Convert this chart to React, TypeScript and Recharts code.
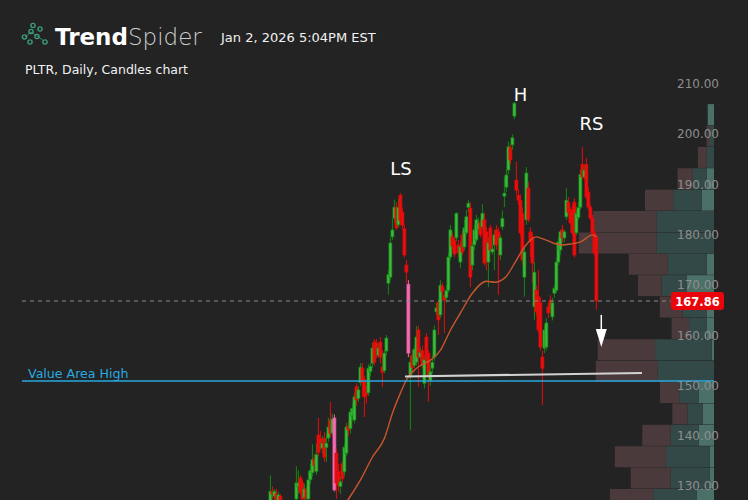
import React from 'react';
import { ComposedChart, BarChart, Bar, Line, XAxis, YAxis, ReferenceLine, ReferenceDot } from 'recharts';

// ---------- data ----------
// daily candles [open, high, low, close], oldest first
const ohlc: [number, number, number, number][] = [
  [127.5,133.2,126.5,130.0],[130,131,128.5,129.5],[129,130.5,128,130],[129.5,130.5,127,128.2],[128.2,130,127.8,129.3],
  [129,129.5,125,125.5],[125.5,126.5,122.5,123],[123,125.5,122,124.5],[124.5,125.5,121.5,122.5],[122.5,125.8,122,124.8],
  [124.8,127.5,124,126.8],[126.8,128,125.5,127.8],[126.5,128.2,125.8,128],[128.5,135,127,131.7],[130.9,134.2,129.5,131.7],
  [132.7,133.2,129.5,129.8],[131.7,132.3,127.5,128.5],[128.8,131.5,128,130.5],[130.5,131,128,128.6],[128.5,133.9,128,132.3],
  [132.3,135.5,131.5,134.2],[133.7,139.4,133,136.3],[136.5,137.5,134,135.2],[134,139.6,133.3,137.3],[141.2,144.6,137,137.8],
  [140.5,142,138.3,139],[138.6,141,137.5,139.6],[140.6,141.8,135.9,136.8],[138.7,141.6,135.9,139.6],[140.6,144.6,139.9,142.8],
  [144.2,147.8,140.8,141.6],[141.6,145.5,141,144.4],[144.6,145.3,130,130.3],[137.6,138.6,128.5,131.7],[134,135.5,130,131.2],
  [131,133,129.5,131.9],[135.5,136,131.8,132.5],[133.9,139.5,133,138.8],[137.6,143.6,137,142.8],[143,144,141,142.2],
  [142.5,146.5,141.5,145.8],[145,147.5,144,146.5],[144.2,149.6,143.5,148.8],[150.8,151.5,147,148.2],[148.5,151,147.8,150.2],
  [151.6,155.5,151,154.7],[154.5,155.5,148.8,151.6],[152.2,153,144.8,148.8],[150,151,147.5,149.2],[149.6,155.3,149,154.5],
  [153.8,155.5,153,154.9],[155.5,159.5,154.5,158.5],[159.7,160.3,155,155.7],[159.5,160.3,156.5,157.5],[157,159.5,156.5,158.5],
  [159.7,160.7,155.5,156.7],[154.7,158.1,150.8,153.7],[154,158,153.5,157.5],[157.9,161.1,157,160.5],[171.4,174,169.1,173.1],
  [172.6,180.5,172,179.4],[180.6,184.2,180,182],[184.3,188,183.5,186.5],[186.5,187.5,182,182.4],[183,188.2,182.5,186.5],
  [188.9,189.3,183,183.9],[185.5,186.5,182,182.9],[182.2,183,176.5,177],[175,176,171.4,173.6],[171.2,172,156.7,157.5],
  [152.8,157,142.2,155.7],[157.1,158,154,154.7],[155.1,159,154.5,158.3],[155.7,162.9,155,160.7],[162.1,163,150.8,156.7],
  [156.7,158.5,156,157.6],[158,159,154.5,155],[151.5,157,150.5,156.2],[160.7,161.5,155.5,156.1],[157.5,158,147.8,152.8],
  [152,154.5,151,153.8],[154.5,157,153.5,155.7],[156.7,163,156,162.1],[165.7,167.5,165,166.5],[167.5,168,161.1,164.1],
  [165.1,172,164.5,171],[170.8,171.5,169,169.8],[169,169.5,161.5,168],[168.5,171,167.5,170],[170,177.5,169.5,176.6],
  [176.6,183,176,182],[180.6,181.5,178,178.8],[180,180.5,176.5,177.2],[180.4,185.5,179.8,185.3],[179,180,176.5,177.4],
  [175.6,179.5,174.4,178.6],[181,181.8,177,177.6],[178.6,184,178,182.4],[181.4,186,181,184.6],[186.5,187.9,185.5,187.3],
  [186.3,187.5,170.6,172.6],[175,179.5,174,178.8],[179,183,178,182],[180,185,179.5,184],[182,184.5,181.5,183.4],
  [183.4,184,180.5,181],[182.6,187.1,182,185.3],[184,185.4,175,175.4],[181.6,182.5,174,175.6],[175.6,180.5,170.6,179.4],
  [182.4,183,177.5,178],[177.6,179,177,178.2],[179,182,174,181],[182,183,178,179],[181.6,182.5,169.1,180],
  [177,181,176,180.4],[182.6,185.9,182,184.3],[188.7,192.5,186.5,189.3],[190.5,194,189.5,192.9],[193.9,199.5,193,198.5],
  [198.3,199,195,195.9],[198.9,201,198,200.3],[204.6,207.4,204,207.2],[191.9,195.5,189,189.9],[188.9,190,187,187.9],
  [187.9,189,180.8,181.4],[185.3,186.5,175,176],[172.6,178.5,168.7,177.6],[184,194.5,183,193.3],[190.3,191.5,183.5,184],
  [181.6,182.5,176.6,179.6],[180.6,181.5,171.4,175.4],[166.7,175.6,164.1,173.6],[170,171,165,165.7],[168.7,174,161.5,162.1],
  [167.5,168.5,158,158.7],[156.7,158,147.2,154.5],[158.5,163,157.5,162.1],[158.7,164.5,158,163.5],[166.7,167.5,164.5,165.5],
  [168,169,165.5,166.1],[164.7,168.5,164,167.5],[169.4,171,168.5,170.4],[170,176.5,169.5,175.6],[175.6,180.5,175,179.6],
  [178,182,177,181.6],[182,183,179.5,180.4],[180.4,182,179.5,181.6],[184.6,190.3,184,187.9],[187.5,188.5,185,185.5],
  [185.5,186.5,183,183.4],[186,187,181,181.4],[187.5,188.3,176.5,177],[181.4,186,181,185.3],[184.5,187.5,184,186.5],
  [186.5,194,186,193],[195,198.5,192,192.5],[192.5,195,192,193.9],[195,196.3,188,188.5],[189.5,190.5,186,186.5],
  [186.5,187,184,184.3],[184.3,185,181,181.4],[181.4,182,177,177.4],[180.6,181,166.1,167.86],
];

// highlighted (pink) sessions, by candle index
const highlightDays = [32, 69];

// moving average read at some sessions [candle index, value]
const maPoints: [number, number][] = [
  [30,124],[39,128.5],[45,132.3],[51,136.85],[57,140.6],[61,145.6],[65,149.6],[68,152.2],[73,154.5],[80,156.1],
  [85,158.1],[90,162.1],[95,165.5],[101,169.45],[108,171.8],[112,171.6],[117,172.4],[123,176],[127,178.6],[133,180.6],
  [137,180.1],[142,179.3],[146,179.0],[150,179.2],[155,179.6],[161,181.0],[163,180.6],
];

// volume profile buckets (price centre) and volumes
const profilePrices = [128.375,132.625,136.875,141.125,145.375,149.625,153.875,158.125,162.375,166.625,170.875,175.125,179.375,183.625,187.875,192.125,196.375,200.625,204.875];
const profileSell = [28.8,26.6,33.9,18.9,10,12.8,41.2,38.1,11.7,15.1,15.8,25.9,51.7,42.4,18.8,10,5.8,2.2,0];
const profileBuy = [28.9,26.1,29.3,18.8,10.2,13.1,37.4,37.7,11.6,16,16.6,25.9,38.1,38.1,18.9,9.3,4.9,2.7,0];
const profileOverlap = [11.5,2.7,2.7,10,7.5,10,0,1.5,4.9,4.9,18.2,4.9,0,0,8.2,4.9,0,0,4.2];

const priceTicks = [130, 140, 150, 160, 170, 180, 190, 200, 210];
const lastPrice = 167.86;
const valueAreaHigh = 151.96;
const neckline = [{ x: 67.25, y: 152.85 }, { x: 185.75, y: 153.55 }];
const patternLabels = [
  { text: 'LS', x: 65.25, y: 194.3 },
  { text: 'H', x: 125, y: 209.0 },
  { text: 'RS', x: 160.5, y: 203.05 },
];
const arrowX = 165.4;
const arrowFrom = 165.1;
const arrowTip = 158.7;

// ---------- layout ----------
const W = 748;
const H = 500;
const MARGIN = { top: 0, right: 34, bottom: 0, left: 22 };
const PRICE_DOMAIN: [number, number] = [128.3, 227.7];
const INDEX_DOMAIN: [number, number] = [-124.25, 221.75];
const FONT = '"DejaVu Sans", sans-serif';
const BG = '#232323';

const maMap = new Map(maPoints.map(([i, v]) => [i, v]));
const highlightSet = new Set(highlightDays);
const rows = ohlc.map(([o, h, l, c], i) => ({ i, o, h, l, c, ma: maMap.has(i) ? maMap.get(i) : null }));
const profileRows = profilePrices.map((price, k) => ({
  price, sell: profileSell[k], buy: profileBuy[k], overlap: profileOverlap[k],
}));

const CandleShape = (props: any) => {
  const { x, y, width, height, payload } = props;
  if (!payload || payload.h == null) return null;
  const top = Math.min(y, y + height);
  const bot = Math.max(y, y + height);
  const span = payload.h - payload.l;
  const toY = (p: number) => (span === 0 ? top : top + ((payload.h - p) / span) * (bot - top));
  const cx = x + width / 2;
  const up = payload.c >= payload.o;
  const pink = highlightSet.has(payload.i);
  const bTop = toY(Math.max(payload.o, payload.c));
  const bBot = toY(Math.min(payload.o, payload.c));
  const bh = Math.max(1.2, bBot - bTop);
  const bw = 3;
  const wick = pink ? '#f068ae' : up ? '#0f8a0f' : '#e50c0c';
  const fill = pink ? '#f56cb2' : up ? '#3cbc3c' : '#e8100f';
  const stroke = pink ? '#e05aa0' : up ? '#178417' : '#e00808';
  return (
    <g>
      <line x1={cx} x2={cx} y1={top} y2={bot} stroke={wick} strokeWidth={1} />
      <rect x={cx - bw / 2} y={bTop} width={bw} height={bh} fill={fill} stroke={stroke} strokeWidth={0.7} />
    </g>
  );
};

const PriceTick = (props: any) => {
  const { y, payload } = props;
  return (
    <text x={719} y={y - 5} textAnchor="end" dominantBaseline="central" fill="#8e8e8e" fontSize={12} fontFamily={FONT}>
      {Number(payload.value).toFixed(2)}
    </text>
  );
};

const PriceTag = (props: any) => {
  const vb = props.viewBox || {};
  const right = (vb.x || 0) + (vb.width || 0);
  const y = vb.y || 0;
  return (
    <g>
      <rect x={right - 43} y={y - 9} width={53} height={18} rx={3} ry={3} fill="#e8060c" />
      <text x={right - 16.5} y={y + 0.5} textAnchor="middle" dominantBaseline="central" fill="#ffffff" fontSize={11.5} fontWeight={700} fontFamily={FONT}>
        {lastPrice.toFixed(2)}
      </text>
    </g>
  );
};

const VahLabel = (props: any) => {
  const vb = props.viewBox || {};
  return (
    <text x={(vb.x || 0) + 6} y={(vb.y || 0) - 7} dominantBaseline="central" fill="#2aa8e0" fontSize={12.6} fontFamily={FONT}>
      Value Area High
    </text>
  );
};

const PatternText = (text: string) => (p: any) => (
  <text x={p.cx} y={p.cy} textAnchor="middle" dominantBaseline="central" fill="#ffffff" fontSize={18} fontFamily={FONT}>
    {text}
  </text>
);

const ArrowHead = (p: any) => (
  <polygon points={`${p.cx},${p.cy} ${p.cx - 5.5},${p.cy - 18} ${p.cx + 5.5},${p.cy - 18}`} fill="#ffffff" />
);

const ProfileChart = () => (
  <BarChart width={W} height={H} data={profileRows} layout="vertical" margin={MARGIN} barCategoryGap={0}>
    <XAxis type="number" domain={[0, 460]} reversed hide allowDataOverflow />
    <YAxis type="number" dataKey="price" domain={PRICE_DOMAIN} allowDataOverflow reversed hide />
    <Bar dataKey="overlap" stackId="p" fill="#4b7068" barSize={21} isAnimationActive={false} />
    <Bar dataKey="buy" stackId="p" fill="#334947" barSize={21} isAnimationActive={false} />
    <Bar dataKey="sell" stackId="p" fill="#4a3a3b" barSize={21} isAnimationActive={false} />
  </BarChart>
);

const MainChart = () => (
  <ComposedChart width={W} height={H} data={rows} margin={MARGIN}>
    <XAxis type="number" dataKey="i" domain={INDEX_DOMAIN} allowDataOverflow hide />
    <YAxis
      type="number"
      domain={PRICE_DOMAIN}
      allowDataOverflow
      orientation="right"
      mirror
      axisLine={false}
      tickLine={false}
      ticks={priceTicks}
      interval={0}
      tick={<PriceTick />}
    />
    <ReferenceLine y={lastPrice} stroke="#8c8c8c" strokeDasharray="4 4" strokeWidth={1} />
    <Bar
      dataKey={(d: any) => [d.l, d.h]}
      barSize={3}
      shape={<CandleShape />}
      isAnimationActive={false}
    />
    <Line dataKey="ma" type="monotone" stroke="#c9552b" strokeWidth={1.4} dot={false} connectNulls isAnimationActive={false} />
    <ReferenceLine segment={neckline} stroke="#d2d2d2" strokeWidth={2.2} ifOverflow="visible" />
    <ReferenceLine y={valueAreaHigh} stroke="#2aa8e0" strokeWidth={1.3} label={<VahLabel />} />
    <ReferenceLine y={lastPrice} stroke="none" label={<PriceTag />} />
    <ReferenceLine segment={[{ x: arrowX, y: arrowFrom }, { x: arrowX, y: arrowTip + 2 }]} stroke="#ffffff" strokeWidth={1.5} />
    <ReferenceDot x={arrowX} y={arrowTip} r={0} shape={ArrowHead} />
    {patternLabels.map((lb) => (
      <ReferenceDot key={lb.text} x={lb.x} y={lb.y} r={0} shape={PatternText(lb.text)} />
    ))}
  </ComposedChart>
);

const Header = () => (
  <svg width={W} height={90} style={{ position: 'absolute', left: 0, top: 0 }}>
    <g stroke="#3a9c7b" strokeWidth={1.4} fill="none">
      <line x1={25} y1={37} x2={31} y2={32} strokeWidth={0.8} />
      <line x1={31} y1={32} x2={37} y2={36} strokeWidth={0.8} />
      <line x1={37} y1={36} x2={44} y2={41} strokeWidth={0.8} />
      <circle cx={24.5} cy={37} r={2.1} />
      <circle cx={31} cy={31.5} r={2.1} />
      <circle cx={33} cy={25.5} r={2.1} />
      <circle cx={40} cy={29} r={2.1} />
      <circle cx={37} cy={36.5} r={2.1} />
      <circle cx={30} cy={42} r={2.1} />
      <circle cx={45} cy={42} r={2.1} />
    </g>
    <text x={55} y={45} fontFamily={FONT} fontSize={23}>
      <tspan fill="#ffffff" fontWeight={700}>Trend</tspan>
      <tspan fill="#cfcfcf" fontWeight={200}>Spider</tspan>
    </text>
    <text x={221} y={42} fontFamily={FONT} fontSize={13} fill="#f2f2f2">Jan 2, 2026 5:04PM EST</text>
    <text x={25} y={74} fontFamily={FONT} fontSize={12.5} fill="#f2f2f2">PLTR, Daily, Candles chart</text>
  </svg>
);

export default function App() {
  return (
    <div style={{ position: 'fixed', left: 0, top: 0, width: W, height: H, background: BG, overflow: 'hidden' }}>
      <div style={{ position: 'absolute', left: 0, top: 0 }}>
        <ProfileChart />
      </div>
      <div style={{ position: 'absolute', left: 0, top: 0 }}>
        <MainChart />
      </div>
      <Header />
    </div>
  );
}
